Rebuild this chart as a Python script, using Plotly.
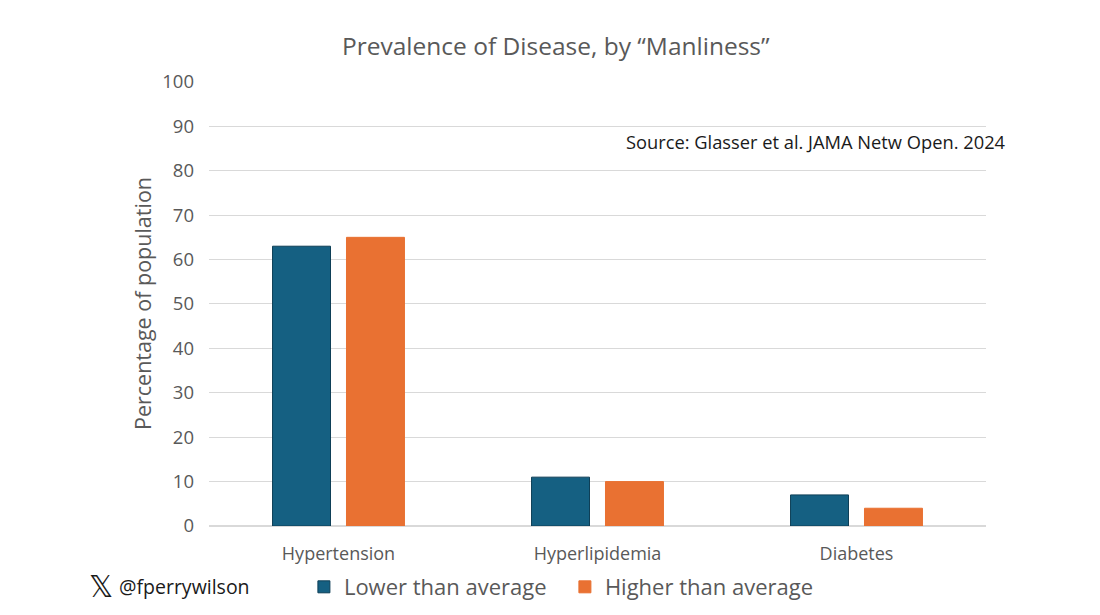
import plotly.graph_objects as go

categories = ["Hypertension", "Hyperlipidemia", "Diabetes"]
lower_vals = [63, 11, 7]
higher_vals = [65, 10, 4]
series_names = ["Lower than average", "Higher than average"]
y_ticks = list(range(0, 101, 10))

FONT = "Open Sans"
GRAY = "#595959"

fig = go.Figure()
fig.add_trace(go.Bar(x=categories, y=lower_vals, name=series_names[0],
                     marker=dict(color="#156082", line=dict(color="#0e3f57", width=1))))
fig.add_trace(go.Bar(x=categories, y=higher_vals, name=series_names[1],
                     marker=dict(color="#E97132", line=dict(color="#E97132", width=1))))

fig.update_layout(
    width=1100, height=615,
    margin=dict(l=201, r=122, t=73, b=97, autoexpand=False),
    paper_bgcolor="white", plot_bgcolor="white",
    barmode="group", bargap=0.429, bargroupgap=0.216,
    font=dict(family=FONT, color=GRAY),
    title=dict(text="Prevalence of Disease, by “Manliness”", x=0.498, xanchor="center",
               y=0.938, yanchor="middle", font=dict(size=24.5, color=GRAY, family=FONT)),
    xaxis=dict(showgrid=False, showline=False, ticks="", ticklabelstandoff=15,
               automargin=False, tickfont=dict(size=18, color=GRAY)),
    yaxis=dict(range=[0, 100.2], tickvals=y_ticks, showgrid=True, gridcolor="#d9d9d9",
               gridwidth=1, zeroline=True, zerolinecolor="#d9d9d9", showline=False,
               automargin=False,
               tickfont=dict(size=18.5, color=GRAY), ticklabelstandoff=14,
               title=dict(text="Percentage of population", font=dict(size=21.5, color=GRAY),
                          standoff=4)),
    legend=dict(orientation="h", xref="container", yref="container", x=0.269, y=0.0585,
                xanchor="left", yanchor="middle", font=dict(size=22, color=GRAY),
                traceorder="normal", entrywidth=216, entrywidthmode="pixels"),
    annotations=[
        dict(text="Source: Glasser et al. JAMA Netw Open. 2024", xref="paper", yref="paper",
             x=1.028, y=0.865, xanchor="right", yanchor="middle", showarrow=False,
             font=dict(size=18.3, color="#1a1a1a", family=FONT)),
        dict(text="𝕏", xref="paper", yref="paper", x=-0.1396, y=-0.137,
             xanchor="center", yanchor="middle", showarrow=False,
             font=dict(size=30, color="#1a1a1a", family="DejaVu Sans")),
        dict(text="@fperrywilson", xref="paper", yref="paper", x=-0.1184, y=-0.137,
             xanchor="left", yanchor="middle", showarrow=False,
             font=dict(size=19.5, color="#1a1a1a", family=FONT)),
    ],
)

fig.write_html("out.html")
